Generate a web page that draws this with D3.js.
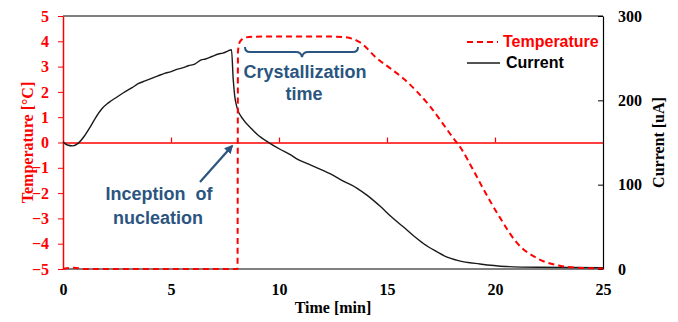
<!DOCTYPE html>
<html>
<head>
<meta charset="utf-8">
<script src="https://cdn.jsdelivr.net/npm/d3@7"></script>
<style>
  body { margin: 0; background: #fff; }
  .serif { font-family: "Liberation Serif", "Times New Roman", serif; font-weight: bold; }
  .sans { font-family: "Liberation Sans", Arial, sans-serif; font-weight: bold; }
</style>
</head>
<body>
<svg id="chart"></svg>
<script>
// time [min], temperature [°C]
const tempTime = [0, 0.5, 1, 8.08, 8.1, 8.2, 8.45, 8.8, 10, 12, 13, 13.4, 13.8, 14.5, 15.2, 15.8, 16.4, 17.0, 17.5, 18.0, 18.4, 19.0, 19.5, 20.2, 21.0, 22.0, 23.0, 24, 25];
const tempValues = [-5, -4.95, -5, -5, 3.6, 4.0, 4.15, 4.18, 4.19, 4.19, 4.17, 4.1, 3.93, 3.35, 2.9, 2.5, 2.0, 1.42, 0.85, 0.25, -0.2, -1.1, -1.9, -2.93, -3.95, -4.6, -4.87, -4.96, -4.98];

// time [min], current [uA]
const curTime = [0, 0.2, 0.45, 0.7, 1.0, 1.25, 1.5, 1.8, 2.1, 2.5, 2.8, 3.2, 3.5, 3.8, 4.1, 4.4, 4.7, 5.0, 5.3, 5.6, 5.8, 6.1, 6.4, 6.6, 6.9, 7.2, 7.4, 7.6, 7.8, 7.88, 7.95, 8.05, 8.35, 8.7, 8.97, 9.58, 10.05, 10.5, 10.8, 11.5, 12.36, 13.0, 13.6, 14.1, 14.7, 15.2, 15.75, 16.2, 16.7, 17.2, 17.7, 18.3, 19.3, 20.5, 22, 25];
const curValues = [151, 147, 146, 149, 158, 168, 179, 190, 197, 204, 209, 215, 220, 223, 226, 229, 232, 234, 237, 239, 241, 243, 248, 249, 252, 255, 256, 258, 260, 225, 205, 192, 177, 167, 160, 149, 142, 136, 131, 123, 113, 104, 96, 87, 74, 62, 50, 40, 30, 22, 15, 10, 6, 3, 2, 1.5];

const xTicks = [0, 5, 10, 15, 20, 25];
const tempTicks = [-5, -4, -3, -2, -1, 0, 1, 2, 3, 4, 5];
const curTicks = [0, 100, 200, 300];

const W = 678, H = 322;
const margin = {top: 16, right: 75, bottom: 53, left: 63};
const width = W - margin.left - margin.right;
const height = H - margin.top - margin.bottom;
const annColor = "#2b5580";

const svg = d3.select("#chart").attr("width", W).attr("height", H);
const g = svg.append("g").attr("transform", `translate(${margin.left},${margin.top})`);

const x = d3.scaleLinear().domain([0, 25]).range([0, width]);
const yT = d3.scaleLinear().domain([-5, 5]).range([height, 0]);
const yC = d3.scaleLinear().domain([0, 300]).range([height, 0]);

// frame: top and bottom
g.append("line").attr("x1", 0).attr("x2", width).attr("y1", 0).attr("y2", 0)
  .attr("stroke", "#000").attr("stroke-width", 1.2);
g.append("line").attr("x1", 0).attr("x2", width).attr("y1", height).attr("y2", height)
  .attr("stroke", "#808080").attr("stroke-width", 2.2);

// x tick labels at bottom
const xAxisG = g.append("g").attr("class", "serif")
  .attr("transform", `translate(0,${height})`)
  .call(d3.axisBottom(x).tickValues(xTicks).tickSize(0).tickPadding(15));
xAxisG.select(".domain").remove();
xAxisG.selectAll("text").attr("font-size", 16).attr("fill", "#000")
  .style("font-family", "Liberation Serif, Times New Roman, serif").style("font-weight", "bold");

// zero line with upward ticks
const zeroG = g.append("g").attr("transform", `translate(0,${yT(0)})`)
  .call(d3.axisTop(x).tickValues([5, 10, 15, 20]).tickSize(5).tickSizeOuter(0).tickFormat(""));
zeroG.select(".domain").attr("stroke", "#ff0000").attr("stroke-width", 1.5);
zeroG.selectAll(".tick line").attr("stroke", "#ff0000").attr("stroke-width", 1.2);

// left axis (temperature)
const leftG = g.append("g")
  .call(d3.axisLeft(yT).tickValues(tempTicks).tickSize(5).tickSizeOuter(0).tickPadding(9));
leftG.select(".domain").attr("stroke", "#ff0000").attr("stroke-width", 1.5);
leftG.selectAll(".tick line").attr("stroke", "#ff0000");
leftG.selectAll("text").attr("fill", "#ff0000").attr("font-size", 16)
  .style("font-family", "Liberation Serif, Times New Roman, serif").style("font-weight", "bold");

// right axis (current)
const rightG = g.append("g").attr("transform", `translate(${width},0)`)
  .call(d3.axisRight(yC).tickValues(curTicks).tickSizeInner(-5).tickSizeOuter(0).tickPadding(15));
rightG.select(".domain").attr("stroke", "#000").attr("stroke-width", 1.2);
rightG.selectAll("text").attr("fill", "#000").attr("font-size", 16)
  .style("font-family", "Liberation Serif, Times New Roman, serif").style("font-weight", "bold");

// current line
const curData = curTime.map((t, i) => [t, curValues[i]]);
g.append("path").datum(curData)
  .attr("fill", "none").attr("stroke", "#1a1a1a").attr("stroke-width", 1.4)
  .attr("d", d3.line().x(d => x(d[0])).y(d => yC(d[1])).curve(d3.curveMonotoneX));

// temperature line
const tempData = tempTime.map((t, i) => [t, tempValues[i]]);
g.append("path").datum(tempData)
  .attr("fill", "none").attr("stroke", "#ff0000").attr("stroke-width", 2)
  .attr("stroke-dasharray", "6,4")
  .attr("d", d3.line().x(d => x(d[0])).y(d => yT(d[1])).curve(d3.curveMonotoneX));

// axis titles
svg.append("text").attr("class", "serif")
  .attr("transform", `translate(27,${margin.top + yT(0)}) rotate(-90)`)
  .attr("text-anchor", "middle").attr("dy", "0.35em")
  .attr("font-size", 16).attr("fill", "#ff0000").text("Temperature [°C]");
svg.append("text").attr("class", "serif")
  .attr("transform", `translate(658,${margin.top + yT(0)}) rotate(-90)`)
  .attr("text-anchor", "middle").attr("dy", "0.35em")
  .attr("font-size", 16).attr("fill", "#000").text("Current [uA]");
svg.append("text").attr("class", "serif")
  .attr("x", margin.left + x(12.5)).attr("y", 313)
  .attr("text-anchor", "middle").attr("font-size", 16).attr("fill", "#000").text("Time [min]");

// legend
const legend = [
  {label: "Temperature", color: "#ff0000", dash: "6,4", x1: 467, x2: 498, y: 42, tx: 503},
  {label: "Current", color: "#1a1a1a", dash: null, x1: 467, x2: 500, y: 63, tx: 506}
];
legend.forEach(d => {
  svg.append("line").attr("x1", d.x1).attr("x2", d.x2).attr("y1", d.y).attr("y2", d.y)
    .attr("stroke", d.color).attr("stroke-width", d.dash ? 2 : 1.4)
    .attr("stroke-dasharray", d.dash);
  svg.append("text").attr("class", "sans").attr("x", d.tx).attr("y", d.y + 5)
    .attr("font-size", 16).attr("fill", d.color === "#ff0000" ? "#ff0000" : "#000").text(d.label);
});

// annotations
svg.append("path")
  .attr("d", "M245,47 Q245,52 250,52 L296,52 Q301,52 302,57 Q303,52 308,52 L353,52 Q358,52 358,47")
  .attr("fill", "none").attr("stroke", annColor).attr("stroke-width", 2);
svg.append("text").attr("class", "sans").attr("x", 305).attr("y", 78)
  .attr("text-anchor", "middle").attr("font-size", 18).attr("fill", annColor).text("Crystallization");
svg.append("text").attr("class", "sans").attr("x", 304).attr("y", 100)
  .attr("text-anchor", "middle").attr("font-size", 18).attr("fill", annColor).text("time");
svg.append("text").attr("class", "sans").attr("x", 159).attr("y", 200)
  .attr("text-anchor", "middle").attr("font-size", 18).attr("fill", annColor)
  .style("white-space", "pre").text("Inception  of");
svg.append("text").attr("class", "sans").attr("x", 158).attr("y", 224)
  .attr("text-anchor", "middle").attr("font-size", 18).attr("fill", annColor).text("nucleation");

svg.append("defs").append("marker").attr("id", "arrow")
  .attr("viewBox", "0 0 10 10").attr("refX", 8).attr("refY", 5)
  .attr("markerWidth", 4).attr("markerHeight", 4).attr("orient", "auto")
  .append("path").attr("d", "M0,0 L10,5 L0,10 z").attr("fill", annColor);
svg.append("line").attr("x1", 200).attr("y1", 182).attr("x2", 232).attr("y2", 146)
  .attr("stroke", annColor).attr("stroke-width", 2.2).attr("marker-end", "url(#arrow)");
</script>
</body>
</html>
